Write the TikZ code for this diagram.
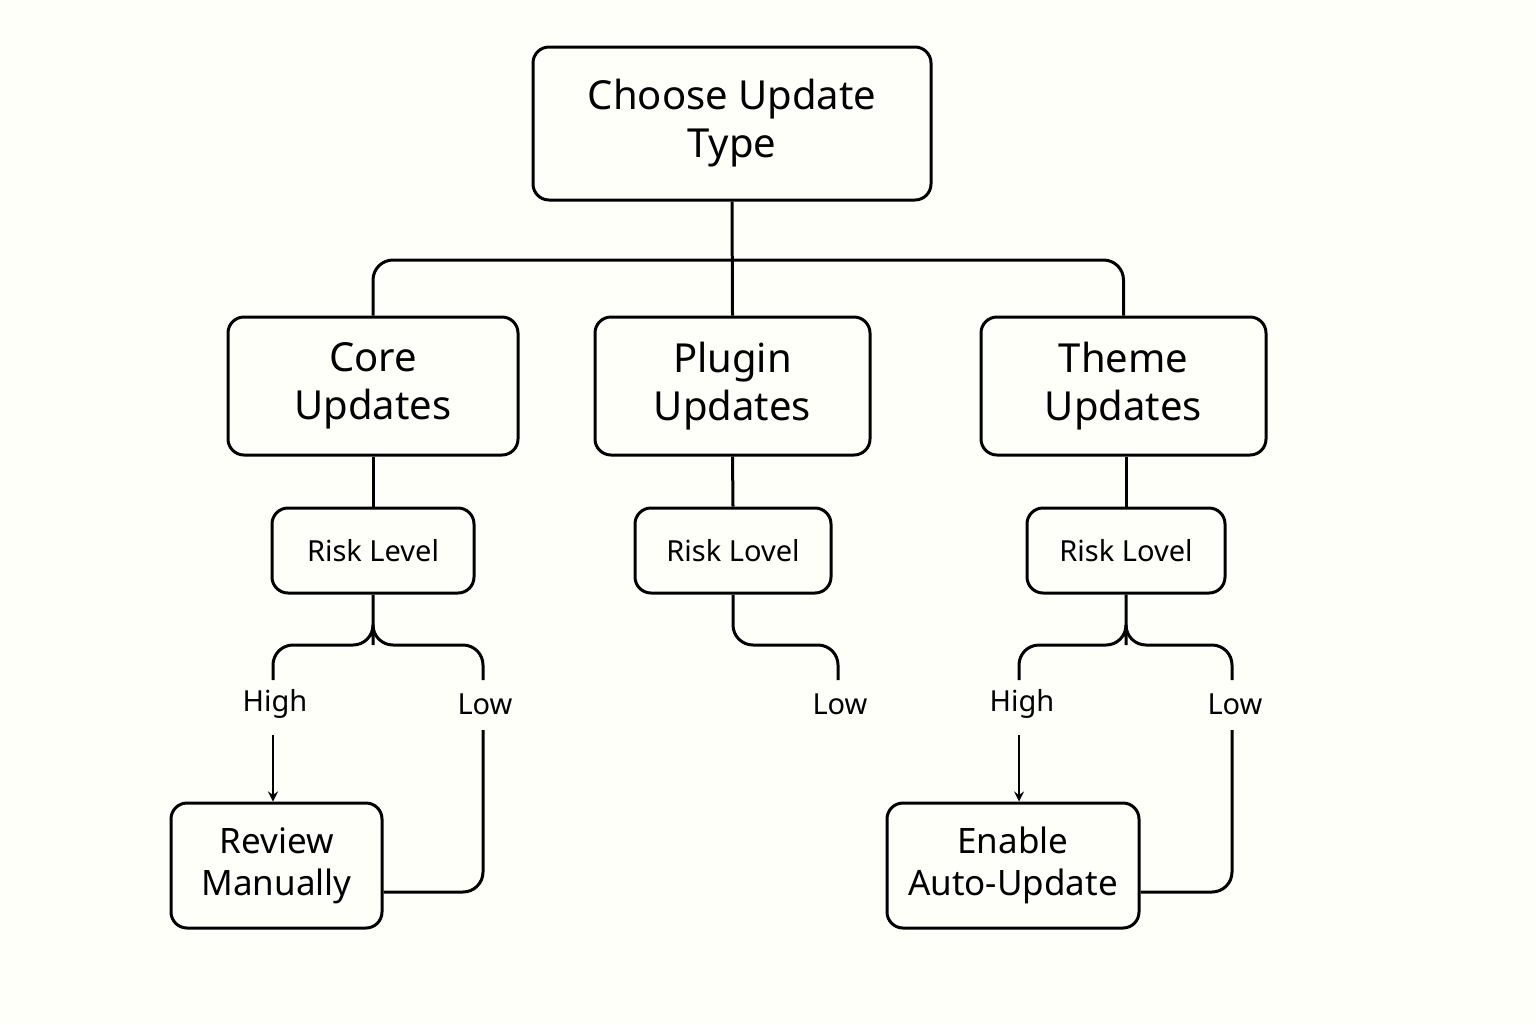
\documentclass[tikz,border=0pt]{standalone}
\usepackage{fontspec}
\setmainfont{Noto Sans}
\begin{document}
\begin{tikzpicture}[x=0.5pt,y=-0.5pt,
  box/.style={draw,line width=1.5pt,rounded corners=8pt,align=center,inner sep=0pt},
  big/.style={box,font=\fontsize{20}{24}\selectfont},
  risk/.style={box,font=\fontsize{14.5}{17}\selectfont},
  lab/.style={font=\fontsize{14.5}{17}\selectfont,inner sep=2pt},
  ln/.style={line width=1.5pt,rounded corners=10pt},
  arr/.style={line width=1.2pt,->,>=stealth}]
\useasboundingbox[fill=white!98!yellow] (0,0) rectangle (1536,1024);
\node[big,minimum width=199pt,minimum height=76.5pt] (top) at (732,123.5) {Choose Update\\Type};
\node[big,minimum width=145pt,minimum height=69pt] (core) at (373,386) {Core\\Updates};
\node[big,minimum width=137.5pt,minimum height=69pt] (plug) at (732.5,386) {Plugin\\Updates};
\node[big,minimum width=142.5pt,minimum height=69pt] (theme) at (1123.5,386) {Theme\\Updates};
\node[risk,minimum width=101pt,minimum height=42.5pt] (r1) at (373,550.5) {Risk Level};
\node[risk,minimum width=98pt,minimum height=42.5pt] (r2) at (733,550.5) {Risk Lovel};
\node[risk,minimum width=99pt,minimum height=42.5pt] (r3) at (1126,550.5) {Risk Lovel};
\node[big,minimum width=105.5pt,minimum height=62.5pt,font=\fontsize{17.5}{21}\selectfont] (rev) at (276.5,865.5) {Review\\Manually};
\node[big,minimum width=126pt,minimum height=62.5pt,font=\fontsize{17.5}{21}\selectfont] (en) at (1013,865.5) {Enable\\Auto-Update};
\node[lab] (h1) at (275,704) {High};
\node[lab] (l1) at (485,704) {Low};
\node[lab] (l2) at (840,704) {Low};
\node[lab] (h3) at (1022,704) {High};
\node[lab] (l3) at (1235,704) {Low};
\coordinate (bus) at (732,260);
\draw[line width=1.5pt] (top.south) -- (plug.north);
\draw[ln] (core.north) -- (373,260) -- (1123.5,260) -- (theme.north);
\draw[line width=1.5pt] (core) -- (r1);
\draw[line width=1.5pt] (plug.south) -- (r2.north);
\draw[line width=1.5pt] (theme.south -| r3) -- (r3.north);
\draw[ln] (r1.south) -- (373,625) -- ++(0,20) -| (273,680);
\draw[ln] (373,625) -- ++(0,20) -| (483,680);
\draw[ln] (r2.south) -- (733,645) -| (838,680);
\draw[ln] (r3.south) -- (1126,625) -- ++(0,20) -| (1019,680);
\draw[ln] (1126,625) -- ++(0,20) -| (1232,680);
\draw[arr] (273,735) -- (rev.north -| 273,0);
\draw[arr] (1019,735) -- (en.north -| 1019,0);
\draw[ln] (483,730) |- (rev.east |- 0,892);
\draw[ln] (1232,730) |- (en.east |- 0,892);
\end{tikzpicture}
\end{document}
